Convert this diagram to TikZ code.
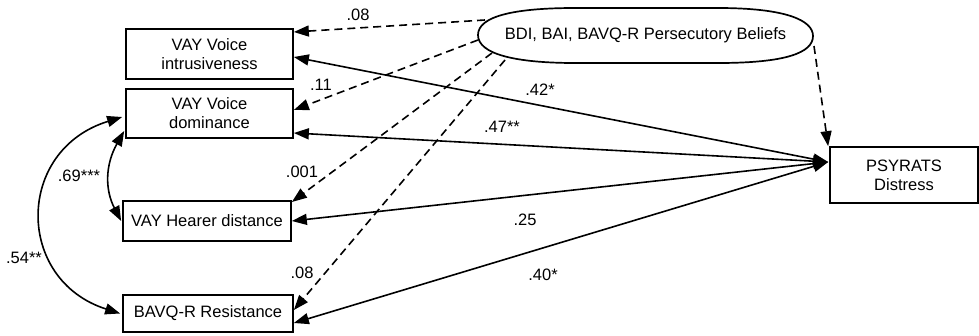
\documentclass[tikz,border=0pt]{standalone}
\usepackage{fontspec}
\setmainfont{Liberation Sans}
\usetikzlibrary{arrows.meta}
\begin{document}
\begin{tikzpicture}[x=1pt,y=-1pt,
  every node/.style={font=\fontsize{16.5}{19}\selectfont},
  var/.style={draw, line width=1.7pt, inner sep=0pt, align=center},
  coef/.style={inner sep=0pt},
  tip/.tip={Triangle[length=15pt,width=11pt]},
  effect/.style={line width=1.6pt, tip-tip},
  control/.style={line width=1.6pt, dash pattern=on 8pt off 5pt, -tip},
  corr/.style={line width=1.6pt, tip-tip}]
\useasboundingbox (0,0) rectangle (979,335);

% observed variables
\node[var, minimum width=167pt, minimum height=50pt] (b1) at (209.5,54) {VAY Voice\\intrusiveness};
\node[var, minimum width=167pt, minimum height=49pt] (b2) at (209.5,113.5) {VAY Voice\\dominance};
\node[var, minimum width=168pt, minimum height=40pt] (b3) at (207,221) {VAY Hearer distance};
\node[var, minimum width=170pt, minimum height=37pt] (b4) at (208,313.5) {BAVQ-R Resistance};
\node[var, minimum width=148pt, minimum height=56pt] (p) at (904,175) {PSYRATS\\Distress};

% covariates (flattened oval)
\node[inner sep=0pt, minimum width=335pt, minimum height=55pt] (e) at (645.5,35) {BDI, BAI, BAVQ-R Persecutory Beliefs};
\draw[line width=1.7pt] (478,35) .. controls (478,16) and (515,8) .. (575,8) -- (718,8)
  .. controls (785,8) and (813,20) .. (813,36) .. controls (813,53) and (785,63) .. (718,63)
  -- (575,63) .. controls (515,63) and (478,54) .. (478,35) -- cycle;
\coordinate (e1) at (485,20);
\coordinate (e2) at (478,40);
\coordinate (e3) at (492,53);
\coordinate (e4) at (505,60);
\coordinate (e5) at (814,46);

% control paths
\draw[control] (e1) -- ([yshift=22pt]b1.east);
\draw[control] (e2) -- ([yshift=3.5pt]b2.east);
\draw[control] (e3) -- ([yshift=19pt]b3.east);
\draw[control] (e4) -- ([yshift=3.5pt]b4.east);
\draw[control] (e5) -- ([xshift=-1pt]p.north west);

% effects on distress
\coordinate (pin) at ([yshift=13pt,xshift=-1pt]p.west);
\draw[effect] ([yshift=-3pt]b1.east) -- (pin);
\draw[effect] ([yshift=-19.5pt]b2.east) -- (pin);
\draw[effect] (b3.east) -- (pin);
\draw[effect] ([yshift=-9.5pt]b4.east) -- (pin);

% correlations
\draw[corr] ([yshift=-17.5pt,xshift=-1pt]b2.west) .. controls (105,165) and (105,190) .. ([xshift=-1pt]b3.west);
\draw[corr] ([yshift=-3.5pt,xshift=-3pt]b2.west) .. controls (15,150) and (15,280) .. ([xshift=-2pt]b4.west);

% coefficients
\node[coef] at (358,15) {.08};
\node[coef] at (321,85) {.11};
\node[coef] at (540,90) {.42*};
\node[coef] at (502,127) {.47**};
\node[coef] at (302,172) {.001};
\node[coef] at (525,220) {.25};
\node[coef] at (302,273) {.08};
\node[coef] at (543,275) {.40*};
\node[coef] at (79,176) {.69***};
\node[coef] at (24,258) {.54**};
\end{tikzpicture}
\end{document}
